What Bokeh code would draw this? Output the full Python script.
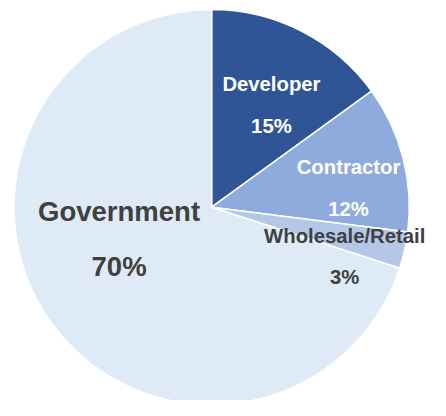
import math
from bokeh.plotting import figure
from bokeh.models import Range1d, ColumnDataSource
from bokeh.core.properties import value
from bokeh.embed import file_html
from bokeh.resources import INLINE

# ---- data ----
categories = ["Developer", "Contractor", "Wholesale/Retail", "Government"]
shares = [15, 12, 3, 70]
pct_labels = ["15%", "12%", "3%", "70%"]

# ---- styling / layout ----
colors = ["#2F5597", "#8FAADC", "#B4C7E7", "#DEEAF6"]
text_colors = ["#FFFFFF", "#FFFFFF", "#404040", "#404040"]
font_sizes = ["20.3px", "20.3px", "20.3px", "27.5px"]
# label anchors in reference-picture pixels
label_x = [281, 361, 357, 123]
name_y = [87, 173, 245, 219]
pct_y = [131, 217, 288, 277]

W, H = 430, 400
REF_W, REF_H = 446, 416
cx, cy, r = 219, 215, 205

def Y(py):
    return REF_H - py

p = figure(width=W, height=H, output_backend="svg", toolbar_location=None,
           x_range=Range1d(0, REF_W), y_range=Range1d(0, REF_H),
           min_border=0)
p.axis.visible = False
p.grid.visible = False
p.outline_line_color = None
p.background_fill_color = "white"
p.border_fill_color = "white"

total = sum(shares)
starts, ends = [], []
cum = 0
for s in shares:
    a0 = cum / total
    cum += s
    a1 = cum / total
    starts.append(math.pi / 2 - 2 * math.pi * a1)
    ends.append(math.pi / 2 - 2 * math.pi * a0)

src = ColumnDataSource(dict(start=starts, end=ends, color=colors))
p.wedge(x=cx, y=Y(cy), radius=r, start_angle="start", end_angle="end",
        direction="anticlock", fill_color="color", line_color="white",
        line_width=1.5, source=src)

for i, cat in enumerate(categories):
    p.text(x=[label_x[i]], y=[Y(name_y[i])], text=[cat],
           text_font=value("Liberation Sans"), text_font_style="bold",
           text_font_size=font_sizes[i], text_color=text_colors[i],
           text_align="center", text_baseline="alphabetic")
    p.text(x=[label_x[i]], y=[Y(pct_y[i])], text=[pct_labels[i]],
           text_font=value("Liberation Sans"), text_font_style="bold",
           text_font_size=font_sizes[i], text_color=text_colors[i],
           text_align="center", text_baseline="alphabetic")

open("out.html", "w").write(file_html(p, INLINE))
